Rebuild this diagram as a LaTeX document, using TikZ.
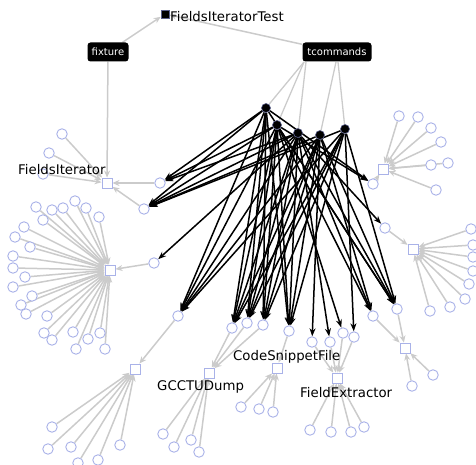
\documentclass[tikz,border=0pt]{standalone}
\usepackage{fontspec}
\setmainfont{DejaVu Sans}
\usetikzlibrary{arrows.meta}
\definecolor{leafc}{HTML}{A9B2E8}
\definecolor{edgec}{HTML}{CBCBCB}
\definecolor{dotc}{HTML}{5A5F8C}
\pgfdeclarelayer{edges}
\pgfdeclarelayer{arrs}
\pgfsetlayers{edges,arrs,main}
\tikzset{
 leaf/.style={circle,draw=leafc,fill=white,line width=0.9pt,minimum size=10.5pt,inner sep=0pt},
 hub/.style={rectangle,draw=leafc,fill=white,line width=0.9pt,minimum size=10pt,inner sep=0pt},
 dotn/.style={circle,fill=black,draw=dotc,line width=0.6pt,minimum size=9pt,inner sep=0pt},
 gedge/.style={draw=edgec,line width=1.5pt},
 garrow/.style={gedge,-{Stealth[length=7pt,width=6pt]}},
 barrow/.style={draw=black,line width=1.5pt,-{Stealth[length=8pt,width=6pt]}},
 tag/.style={fill=black,text=white,rounded corners=3pt,minimum height=19pt,inner xsep=4pt,inner ysep=0pt,font=\fontsize{10}{12}\selectfont},
 lbl/.style={anchor=west,inner sep=0pt,font=\fontsize{13.3}{15}\selectfont}
}
\begin{document}
\begin{tikzpicture}[x=1pt,y=-1pt]
\useasboundingbox (0,0) rectangle (476,465);
% top
\node[rectangle,fill=black,draw=dotc,line width=0.6pt,minimum size=8pt,inner sep=0pt] (test) at (165,14) {};
\node[lbl] (testlbl) at (170,17) {FieldsIteratorTest};
\node[tag,minimum width=41pt] (fixture) at (108,52) {fixture};
\node[tag,minimum width=69pt] (tcom) at (337,52) {tcommands};
\coordinate (tA) at (304,62);
\coordinate (tB) at (306,62);
\coordinate (tC) at (336,62);
\coordinate (tD) at (338,62);
% hubs
\node[hub] (hFI) at (107,183) {};
\node[hub] (hL) at (110,270) {};
\node[hub] (hBL) at (135,369) {};
\node[hub] (hG) at (209,373) {};
\node[hub] (hC) at (277,368) {};
\node[hub] (hF) at (337,378) {};
\node[hub] (hRB) at (405,348) {};
\node[hub] (hR) at (413,249) {};
\node[hub] (hRT) at (383,169) {};
% intermediate circles
\foreach \n/\x/\y/\h in {A/160/183/hFI, B/144/209/hFI, C/154/263/hL, D/178/316/hBL,
  E/232/328/hG, F/247/323/hG, G/263/325/hG, H/289/331/hC, I/312/342/hF, J/330/342/hF,
  K/343/333/hF, L/354/337/hF, M/373/316/hRB, N/397/309/hRB, O/373/184/hRT, P/385/228/hR}{
  \node[leaf] (\n) at (\x,\y) {};
  \begin{pgfonlayer}{edges}\draw[garrow] (\n) -- (\h);\end{pgfonlayer}
}
% dots
\node[dotn] (d1) at (266,108) {};
\node[dotn] (d2) at (277,125) {};
\node[dotn] (d3) at (298,133) {};
\node[dotn] (d4) at (320,135) {};
\node[dotn] (d5) at (345,129) {};
\begin{pgfonlayer}{edges}
\draw[garrow] (fixture) -- (test);
\draw[garrow] (tcom) -- (test);
\draw[garrow] (fixture) -- (hFI);
\foreach \s/\d in {tA/d1, tA/d2, tB/d3, tC/d4, tD/d5}{
  \draw[gedge,line width=1.3pt] (\s) -- (\d);
}
\end{pgfonlayer}
% leaves
\newcommand{\leaves}[3]{%
 \foreach \x/\y [count=\i] in {#3}{
  \node[leaf] (#1\i) at (\x,\y) {};
  \begin{pgfonlayer}{edges}\draw[garrow] (#1\i) -- (#2);\end{pgfonlayer}
 }}
\leaves{lfi}{hFI}{62/134, 49/153, 43/174}
\leaves{ll}{hL}{36/207, 52/210, 63/208, 75/201, 86/208, 99/217, 43/220, 24/227, 15/237, 30/247,
 13/256, 13/268, 25/277, 13/287, 32/296, 21/305, 26/314, 47/316, 44/333, 52/340, 73/332, 88/339,
 100/333, 76/349, 105/349}
\leaves{lbl}{hBL}{52/427, 48/449, 71/447, 78/463, 98/460, 120/445}
\leaves{lg}{hG}{163/434, 174/447, 191/440, 199/452}
\leaves{lc}{hC}{241/407, 259/409, 273/412}
\leaves{lf}{hF}{310/430, 331/432, 351/432, 364/427}
\leaves{lrb}{hRB}{433/375, 412/386}
\leaves{lr}{hR}{471/229, 473/245, 473/257, 473/271, 469/284, 465/299, 450/307, 430/311}
\leaves{lrt}{hRT}{399/116, 418/117, 431/128, 441/142, 431/165, 448/163, 436/190}
% black arrows
\begin{pgfonlayer}{arrs}
\foreach \d in {d1,d2,d3,d4,d5}{
  \foreach \t in {B,D,E,F,G,H,N}{ \draw[barrow] (\d) -- (\t); }
}
\foreach \d/\t in {d1/A, d2/A, d3/A, d2/M, d3/M, d4/M, d1/O, d2/O, d3/P, d3/C, d4/I, d3/J, d2/K, d5/L}{
  \draw[barrow] (\d) -- (\t);
}
\end{pgfonlayer}
% labels
\node[lbl] (lFI) at (18,170) {FieldsIterator};
\node[lbl] (lC) at (233,357) {CodeSnippetFile};
\node[lbl] (lG) at (157,387) {GCCTUDump};
\node[lbl] (lF) at (300,393) {FieldExtractor};
\end{tikzpicture}
\end{document}
